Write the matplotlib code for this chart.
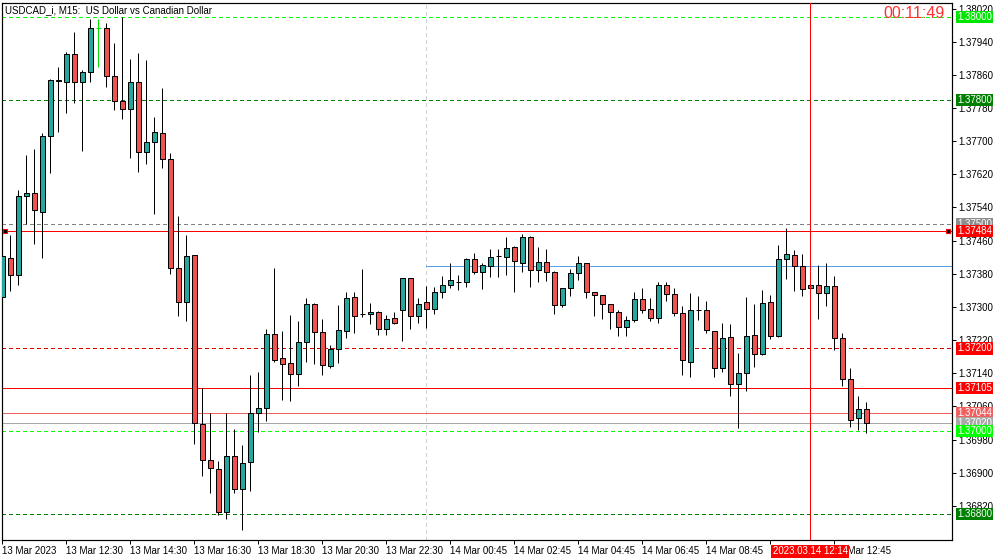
import matplotlib
matplotlib.use('Agg')
import matplotlib.pyplot as plt
import matplotlib.transforms as mtransforms

plt.rcParams['font.family'] = ['Liberation Sans', 'DejaVu Sans']

# M15 bars, index 0 = 13 Mar 10:30
opens = [1.37323, 1.37418, 1.37377, 1.37567, 1.37574, 1.37530, 1.37712, 1.37845, 1.37842, 1.37910,
         1.37842, 1.37866, 1.37972, 1.37972, 1.37858, 1.37797, 1.37778, 1.37843, 1.37673, 1.37697,
         1.37719, 1.37656, 1.37393, 1.37311, 1.37425, 1.37017, 1.36930, 1.36909, 1.36806, 1.36940,
         1.36860, 1.36925, 1.37044, 1.37056, 1.37234, 1.37176, 1.37164, 1.37138, 1.37215, 1.37307,
         1.37239, 1.37158, 1.37198, 1.37243, 1.37323, 1.37283, 1.37282, 1.37287, 1.37246, 1.37273,
         1.37292, 1.37369, 1.37279, 1.37311, 1.37295, 1.37336, 1.37352, 1.37359, 1.37360, 1.37415,
         1.37384, 1.37399, 1.37422, 1.37420, 1.37444, 1.37405, 1.37469, 1.37389, 1.37408, 1.37384,
         1.37304, 1.37345, 1.37381, 1.37405, 1.37336, 1.37328, 1.37307, 1.37287, 1.37251, 1.37268,
         1.37319, 1.37295, 1.37273, 1.37352, 1.37331, 1.37285, 1.37168, 1.37292, 1.37292, 1.37241,
         1.37152, 1.37227, 1.37114, 1.37140, 1.37232, 1.37186, 1.37311, 1.37229, 1.37415, 1.37425,
         1.37398, 1.37345, 1.37352, 1.37333, 1.37350, 1.37225, 1.37126, 1.37032, 1.37053]
highs = [1.37438, 1.37474, 1.37582, 1.37667, 1.37681, 1.37720, 1.37849, 1.37880, 1.37916, 1.37963,
         1.37872, 1.37995, 1.37995, 1.37984, 1.37936, 1.38000, 1.37898, 1.37912, 1.37896, 1.37759,
         1.37828, 1.37672, 1.37519, 1.37473, 1.37426, 1.37104, 1.37044, 1.36928, 1.37044, 1.37005,
         1.36966, 1.37135, 1.37142, 1.37246, 1.37395, 1.37242, 1.37281, 1.37266, 1.37321, 1.37310,
         1.37270, 1.37208, 1.37305, 1.37337, 1.37337, 1.37392, 1.37310, 1.37290, 1.37281, 1.37288,
         1.37370, 1.37370, 1.37321, 1.37351, 1.37349, 1.37375, 1.37406, 1.37377, 1.37419, 1.37430,
         1.37407, 1.37440, 1.37439, 1.37468, 1.37447, 1.37476, 1.37470, 1.37445, 1.37439, 1.37387,
         1.37346, 1.37391, 1.37423, 1.37406, 1.37337, 1.37329, 1.37308, 1.37293, 1.37278, 1.37337,
         1.37346, 1.37322, 1.37361, 1.37360, 1.37345, 1.37302, 1.37334, 1.37326, 1.37315, 1.37242,
         1.37261, 1.37259, 1.37189, 1.37324, 1.37307, 1.37341, 1.37328, 1.37450, 1.37491, 1.37437,
         1.37427, 1.37356, 1.37401, 1.37405, 1.37374, 1.37237, 1.37152, 1.37085, 1.37070]
lows = [1.37319, 1.37339, 1.37354, 1.37501, 1.37453, 1.37419, 1.37622, 1.37723, 1.37769, 1.37793,
        1.37677, 1.37843, 1.37880, 1.37831, 1.37775, 1.37753, 1.37659, 1.37626, 1.37644, 1.37525,
        1.37636, 1.37379, 1.37277, 1.37265, 1.36970, 1.36891, 1.36852, 1.36797, 1.36788, 1.36851,
        1.36762, 1.36855, 1.36999, 1.37024, 1.37168, 1.37076, 1.37074, 1.37110, 1.37168, 1.37163,
        1.37135, 1.37153, 1.37166, 1.37226, 1.37238, 1.37275, 1.37260, 1.37233, 1.37233, 1.37259,
        1.37219, 1.37248, 1.37261, 1.37249, 1.37284, 1.37322, 1.37346, 1.37342, 1.37347, 1.37379,
        1.37344, 1.37373, 1.37373, 1.37378, 1.37335, 1.37384, 1.37347, 1.37359, 1.37363, 1.37284,
        1.37299, 1.37327, 1.37366, 1.37322, 1.37277, 1.37271, 1.37246, 1.37231, 1.37231, 1.37264,
        1.37285, 1.37265, 1.37262, 1.37315, 1.37277, 1.37136, 1.37132, 1.37269, 1.37238, 1.37132,
        1.37142, 1.37086, 1.37009, 1.37098, 1.37156, 1.37184, 1.37222, 1.37228, 1.37368, 1.37339,
        1.37327, 1.37341, 1.37272, 1.37303, 1.37195, 1.37110, 1.37010, 1.37002, 1.36995]
closes = [1.37423, 1.37377, 1.37567, 1.37574, 1.37533, 1.37712, 1.37847, 1.37848, 1.37910, 1.37843,
          1.37866, 1.37972, 1.37972, 1.37858, 1.37797, 1.37777, 1.37843, 1.37673, 1.37697, 1.37721,
          1.37656, 1.37393, 1.37311, 1.37422, 1.37020, 1.36930, 1.36911, 1.36806, 1.36940, 1.36860,
          1.36923, 1.37044, 1.37056, 1.37234, 1.37171, 1.37162, 1.37138, 1.37215, 1.37307, 1.37239,
          1.37159, 1.37198, 1.37245, 1.37321, 1.37277, 1.37283, 1.37287, 1.37246, 1.37271, 1.37261,
          1.37369, 1.37279, 1.37307, 1.37296, 1.37336, 1.37352, 1.37364, 1.37359, 1.37415, 1.37384,
          1.37401, 1.37420, 1.37422, 1.37442, 1.37410, 1.37469, 1.37389, 1.37408, 1.37384, 1.37304,
          1.37345, 1.37381, 1.37405, 1.37336, 1.37328, 1.37307, 1.37287, 1.37251, 1.37268, 1.37319,
          1.37292, 1.37273, 1.37352, 1.37331, 1.37285, 1.37172, 1.37292, 1.37292, 1.37244, 1.37152,
          1.37225, 1.37114, 1.37140, 1.37229, 1.37186, 1.37309, 1.37229, 1.37415, 1.37427, 1.37398,
          1.37343, 1.37352, 1.37333, 1.37350, 1.37225, 1.37126, 1.37027, 1.37053, 1.37020]
lime_bar = 12

# time axis labels, every 8 bars
time_ticks = [0, 8, 16, 24, 32, 40, 48, 56, 64, 72, 80, 88, 96, 104]
time_labels = ['13 Mar 2023', '13 Mar 12:30', '13 Mar 14:30', '13 Mar 16:30', '13 Mar 18:30',
               '13 Mar 20:30', '13 Mar 22:30', '14 Mar 00:45', '14 Mar 02:45', '14 Mar 04:45',
               '14 Mar 06:45', '14 Mar 08:45', '14 Mar 10:45', '14 Mar 12:45']
price_ticks = [1.36820, 1.36900, 1.36980, 1.37060, 1.37140, 1.37220, 1.37300, 1.37380,
               1.37460, 1.37540, 1.37620, 1.37700, 1.37780, 1.37860, 1.37940, 1.38020]

# horizontal levels: price, colour, style, label background
levels = [
    (1.38000, '#00ff00', 'dashed', '#00e600'),
    (1.37800, '#008000', 'dashed', '#008000'),
    (1.37500, '#808080', 'dashed', '#8c8c8c'),
    (1.37484, '#ff0000', 'solid', '#ff0000'),
    (1.37200, '#e00000', 'dashed', '#ff0000'),
    (1.37105, '#ff0000', 'solid', '#ff0000'),
    (1.37044, '#f06060', 'solid', '#f06060'),
    (1.37020, '#a8a8a8', 'solid', '#a8a8a8'),
    (1.37000, '#00ff00', 'dashed', '#00ff00'),
    (1.36800, '#008000', 'dashed', '#008000'),
]
blue_level = 1.37399
day_sep = 53
cross_bar = 101
cross_label = '2023.03.14 12:14'
timer = '00:11:49'
title = 'USDCAD_i, M15:  US Dollar vs Canadian Dollar'

bull = '#26a69a'
bear = '#ef5350'
px = 0.72  # one pixel in points

fig = plt.figure(figsize=(10.04, 5.6), dpi=100)
ax = fig.add_axes([2 / 1004, 20.5 / 560, 950 / 1004, 536.8 / 560])
ax.set_xlim(-0.04, 118.71)
ax.set_ylim(1.36739, 1.38034)

# levels
for price, col, ls, bg in levels:
    if ls == 'dashed':
        ax.axhline(price, color=col, lw=px, dashes=(4, 3), antialiased=False, zorder=1)
    else:
        ax.axhline(price, color=col, lw=px, antialiased=False, zorder=1)
    ax.annotate(f'{price:.5f}', xy=(1, price), xycoords=('axes fraction', 'data'),
                xytext=(3.5, 0), textcoords='offset points', ha='left', va='center',
                fontsize=7, color='white', zorder=10, annotation_clip=False,
                bbox=dict(boxstyle='square,pad=0.12', fc=bg, ec='none'))
ax.plot([0.003, 0.996], [1.37484, 1.37484], 's', ms=3.5, mfc='black', mec='red',
        mew=0.8, transform=mtransforms.blended_transform_factory(ax.transAxes, ax.transData),
        zorder=6, clip_on=False)

ax.hlines(blue_level, day_sep, 118.71, color='#55a0e6', lw=px, antialiased=False, zorder=1)
ax.axvline(day_sep, color='#c8d4d8', lw=px, dashes=(4, 4), antialiased=False, zorder=0)

# candles
for i in range(len(opens)):
    o, h, l, c = opens[i], highs[i], lows[i], closes[i]
    if i == lime_bar:
        ax.vlines(i, l, h, color='#00e000', lw=px, zorder=3)
        ax.hlines(o, i - 0.3, i + 0.3, color='#00e000', lw=px, zorder=3)
        continue
    ax.vlines(i, l, h, color='black', lw=px, zorder=3)
    if c == o:
        ax.hlines(o, i - 0.3, i + 0.3, color='black', lw=px, zorder=4)
    else:
        ax.bar(i, abs(c - o), bottom=min(o, c), width=0.6,
               color=bull if c > o else bear, edgecolor='black', linewidth=px, zorder=4)

# crosshair
ax.axvline(cross_bar, color='#ff0000', lw=px, antialiased=False, zorder=5)
ax.annotate(cross_label, xy=(cross_bar, 0), xycoords=('data', 'axes fraction'),
            xytext=(0, -8.5), textcoords='offset points', ha='center', va='center',
            fontsize=7, color='white', zorder=10, annotation_clip=False,
            bbox=dict(boxstyle='square,pad=0.15', fc='#ff0000', ec='none'))

# axes
ax.yaxis.tick_right()
ax.set_yticks(price_ticks)
ax.set_yticklabels([f'{p:.5f}' for p in price_ticks])
ax.set_xticks(time_ticks)
ax.set_xticklabels(time_labels)
for k, lab in zip(time_ticks, ax.get_xticklabels()):
    lab.set_horizontalalignment('left')
    # the label just left of the crosshair box is hidden under it
    if cross_bar - 6 < k < cross_bar:
        lab.set_visible(False)
ax.tick_params(axis='y', length=3, width=px, pad=1.5, labelsize=7, colors='black')
ax.tick_params(axis='x', length=3, width=px, pad=1.5, labelsize=7, colors='black')
for s in ax.spines.values():
    s.set_linewidth(px * 1.2)
    s.set_color('black')

ax.text(0.003, 0.996, title, transform=ax.transAxes, ha='left', va='top',
        fontsize=7, color='black', zorder=10)
ax.text(0.9926, 0.979, timer, transform=ax.transAxes, ha='right', va='center',
        fontsize=11.5, color='#ff3030', zorder=10)

fig.savefig('out.png', dpi=100, facecolor='white')
